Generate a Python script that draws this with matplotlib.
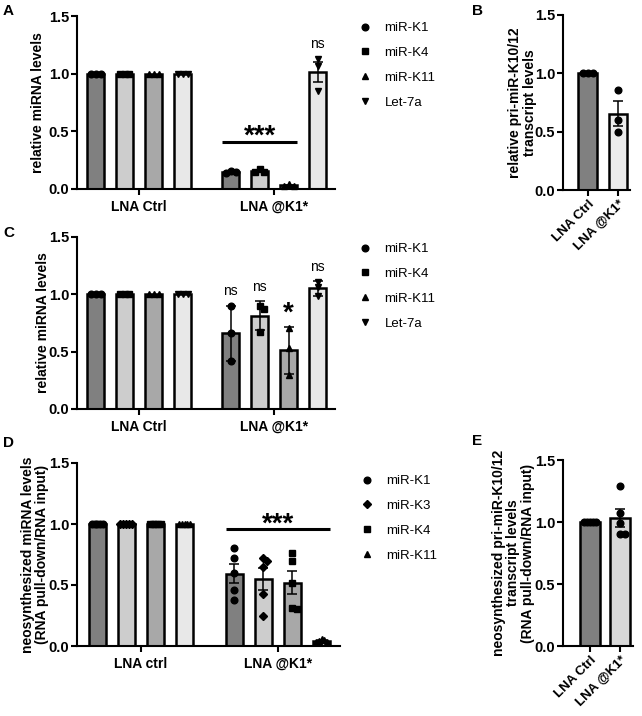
import numpy as np
import matplotlib; matplotlib.use('Agg')
import matplotlib.pyplot as plt
from matplotlib.lines import Line2D

plt.rcParams['font.family'] = ['Liberation Sans', 'DejaVu Sans']

# ---------- données ----------
groups_ac = ['LNA Ctrl', 'LNA @K1*']
groups_d = ['LNA ctrl', 'LNA @K1*']
series_ac = ['miR-K1', 'miR-K4', 'miR-K11', 'Let-7a']
series_d = ['miR-K1', 'miR-K3', 'miR-K4', 'miR-K11']

# A : niveaux relatifs de miRNA (3 réplicats)
a_ctrl = [[1.0, 1.0, 1.0], [1.0, 1.0, 1.0], [1.0, 1.0, 1.0], [1.0, 1.0, 1.0]]
a_lna = [[0.16, 0.15, 0.14], [0.17, 0.15, 0.15], [0.04, 0.03, 0.03], [1.13, 1.07, 0.85]]
a_sig = ['', '', '', 'ns']

# B : pri-miR-K10/12
b_labels = ['LNA Ctrl', 'LNA @K1*']
b_vals = [[1.0, 1.0, 1.0], [0.86, 0.60, 0.50]]

# C : niveaux relatifs de miRNA (barres d'erreur = SD)
c_ctrl = [[1.0, 1.0, 1.0], [1.0, 1.0, 1.0], [1.0, 1.0, 1.0], [1.0, 1.0, 1.0]]
c_lna = [[0.90, 0.66, 0.42], [0.90, 0.87, 0.67], [0.71, 0.53, 0.30], [1.11, 1.06, 0.985]]
c_sig = ['ns', 'ns', '*', 'ns']

# D : miRNA néosynthétisés (5 réplicats)
d_ctrl = [[1.0] * 5, [1.0] * 5, [1.0] * 5, [1.0] * 5]
d_lna = [[0.80, 0.72, 0.60, 0.46, 0.38], [0.72, 0.70, 0.65, 0.43, 0.25],
         [0.76, 0.70, 0.52, 0.31, 0.30], [0.06, 0.05, 0.04, 0.03, 0.03]]

# E : pri-miR-K10/12 néosynthétisé
e_labels = ['LNA Ctrl', 'LNA @K1*']
e_vals = [[1.0] * 5, [1.29, 1.07, 0.99, 0.90, 0.90]]

fills4 = ['#808080', '#cdcdcd', '#a8a8a8', '#e8e8e8']
marks_ac = ['o', 's', '^', 'v']
marks_d = ['o', 'D', 's', '^']
msize_ac = [4.8, 4.4, 4.8, 4.8]
msize_d = [4.8, 3.6, 4.4, 4.8]

W, H = 642, 716
fig = plt.figure(figsize=(W / 100, H / 100), dpi=100)


def rect(x0, ytop, x1, ybot):
    return [x0 / W, 1 - ybot / H, (x1 - x0) / W, (ybot - ytop) / H]


def sem(v):
    v = np.asarray(v, float)
    return v.std(ddof=1) / np.sqrt(len(v))


def sd(v):
    return np.asarray(v, float).std(ddof=1)


def style(ax, xlim):
    ax.set_xlim(*xlim); ax.set_ylim(0, 1.5)
    ax.set_yticks([0, 0.5, 1.0, 1.5])
    ax.set_yticklabels(['0.0', '0.5', '1.0', '1.5'])
    for s in ('top', 'right'):
        ax.spines[s].set_visible(False)
    for s in ('left', 'bottom'):
        ax.spines[s].set_linewidth(1.5)
    ax.tick_params(width=1.5, length=4, labelsize=10.5, pad=1.5)
    for t in ax.get_yticklabels() + ax.get_xticklabels():
        t.set_fontweight('bold')


def swarm(ax, xc, vals, width, marker, ms):
    """Points façon GraphPad : écartés s'ils se chevauchent, sans sortir de la barre."""
    d = ms * 100 / 72
    placed = []
    for v in vals:
        base = ax.transData.transform((xc, v))
        for k in [0, 1, -1, 2, -2, 3, -3]:
            p = base + np.array([k * 0.75 * d, 0])
            if all(np.hypot(*(p - q)) >= d * 0.7 for q in placed):
                break
        placed.append(p)
    placed = np.array(placed)
    cx = ax.transData.transform((xc, 0))[0]
    bw = ax.transData.transform((xc + width / 2, 0))[0] - cx
    off = placed[:, 0] - cx
    lim = max(bw - d / 2, 0)
    if np.abs(off).max() > lim:
        placed[:, 0] = cx + off * lim / np.abs(off).max()
    pts = ax.transData.inverted().transform(placed)
    ax.plot(pts[:, 0], pts[:, 1], ls='none', marker=marker, ms=ms,
            color='k', zorder=5, clip_on=False)


def bar_with_points(ax, x, vals, width, fill, marker, ms, errf):
    m = np.mean(vals)
    ax.bar(x, m, width, color=fill, edgecolor='k', linewidth=1.8, zorder=2)
    e = errf(vals)
    if e > 1e-6:
        ax.errorbar(x, m, yerr=e, fmt='none', ecolor='k', elinewidth=1.1,
                    capsize=3.5, capthick=1.1, zorder=4)
    swarm(ax, x, vals, width, marker, ms)
    return m + e


def grouped(ax, ctrl, lna, groups, marks, msizes, step, width, errf, xlim):
    style(ax, xlim)
    ax.tick_params(axis='x', pad=4)
    offs = (np.arange(4) - 1.5) * step
    tops = []
    for gi, data in enumerate([ctrl, lna]):
        for si in range(4):
            t = bar_with_points(ax, gi + offs[si], data[si], width, fills4[si],
                                marks[si], msizes[si], errf)
            if gi == 1:
                tops.append(max(t, max(data[si])))
    ax.set_xticks([0, 1]); ax.set_xticklabels(groups)
    for t in ax.get_xticklabels():
        t.set_fontweight('bold'); t.set_fontsize(10)
    return 1 + offs, tops


def legend(names, marks, sizes, x, y):
    h = [Line2D([], [], ls='none', marker=mk, color='k', ms=s) for mk, s in zip(marks, sizes)]
    fig.legend(h, names, loc='upper left', bbox_to_anchor=(x / W, 1 - y / H),
               frameon=False, fontsize=9.5, handlelength=1.0, handletextpad=1.0,
               labelspacing=0.95, borderpad=0, borderaxespad=0)


def two_bars(ax, labels, vals, fills, xlim, width):
    style(ax, xlim)
    for i, v in enumerate(vals):
        bar_with_points(ax, i, v, width, fills[i], 'o', 4.8, sem)
    ax.set_xticks([0, 1])
    ax.set_xticklabels(labels, rotation=45, ha='right', rotation_mode='anchor',
                       fontweight='bold', fontsize=9.5)


def sig_bar(ax, x0, x1, y):
    ax.plot([x0, x1], [y, y], color='k', lw=2.2, solid_capstyle='butt', zorder=3)
    ax.text((x0 + x1) / 2, y - 0.02, '***', ha='center', va='baseline',
            fontsize=20, fontweight='bold')


# ---------- A ----------
axA = fig.add_axes(rect(77, 16, 335, 189))
xs, tops = grouped(axA, a_ctrl, a_lna, groups_ac, marks_ac, msize_ac,
                   0.215, 0.126, sem, (-0.46, 1.45))
axA.set_ylabel('relative miRNA levels', fontweight='bold', fontsize=10)
axA.yaxis.set_label_coords(-0.124, 0.5)
sig_bar(axA, xs[0] - 0.063, xs[2] + 0.063, 0.41)
for x, t, s in zip(xs, tops, a_sig):
    if s:
        axA.text(x, t + 0.065, s, ha='center', va='bottom', fontsize=10)
legend(series_ac, marks_ac, msize_ac, 358, 22)

# ---------- B ----------
axB = fig.add_axes(rect(563, 15, 630, 190))
two_bars(axB, b_labels, b_vals, ['#808080', '#ebebeb'], (-0.83, 1.4), 0.63)
axB.set_ylabel('relative pri-miR-K10/12\ntranscript levels', fontweight='bold',
               fontsize=10, linespacing=1.05)
axB.yaxis.set_label_coords(-0.39, 0.5)

# ---------- C ----------
axC = fig.add_axes(rect(77, 237, 335, 409))
xs, tops = grouped(axC, c_ctrl, c_lna, groups_ac, marks_ac, msize_ac,
                   0.215, 0.126, sd, (-0.46, 1.45))
axC.set_ylabel('relative miRNA levels', fontweight='bold', fontsize=10)
axC.yaxis.set_label_coords(-0.105, 0.5)
for x, t, s in zip(xs, tops, c_sig):
    if s == '*':
        axC.text(x, t + 0.05, s, ha='center', va='baseline', fontsize=20,
                 fontweight='bold')
    elif s:
        axC.text(x, t + 0.065, s, ha='center', va='bottom', fontsize=10)
legend(series_ac, marks_ac, msize_ac, 358, 243)

# ---------- D ----------
axD = fig.add_axes(rect(77, 463, 340, 646))
xs, tops = grouped(axD, d_ctrl, d_lna, groups_d, marks_d, msize_d,
                   0.212, 0.124, sem, (-0.467, 1.453))
axD.set_ylabel('neosynthesized miRNA levels\n(RNA pull-down/RNA input)',
               fontweight='bold', fontsize=10, linespacing=1.05)
axD.yaxis.set_label_coords(-0.105, 0.5)
sig_bar(axD, xs[0] - 0.062, xs[3] + 0.062, 0.96)
legend(series_d, marks_d, msize_d, 360, 475)

# ---------- E ----------
axE = fig.add_axes(rect(563, 460, 633, 646))
two_bars(axE, e_labels, e_vals, ['#808080', '#d8d8d8'], (-0.9, 1.43), 0.65)
axE.set_ylabel('neosynthesized pri-miR-K10/12\ntranscript levels\n(RNA pull-down/RNA input)',
               fontweight='bold', fontsize=10, linespacing=1.05)
axE.yaxis.set_label_coords(-0.4, 0.5)

for lab, x, y in [('A', 3, 4), ('B', 472, 4), ('C', 3, 226), ('D', 3, 436), ('E', 472, 434)]:
    fig.text(x / W, 1 - y / H, lab, fontsize=11, fontweight='bold', va='top')

fig.savefig('out.png', dpi=100)
